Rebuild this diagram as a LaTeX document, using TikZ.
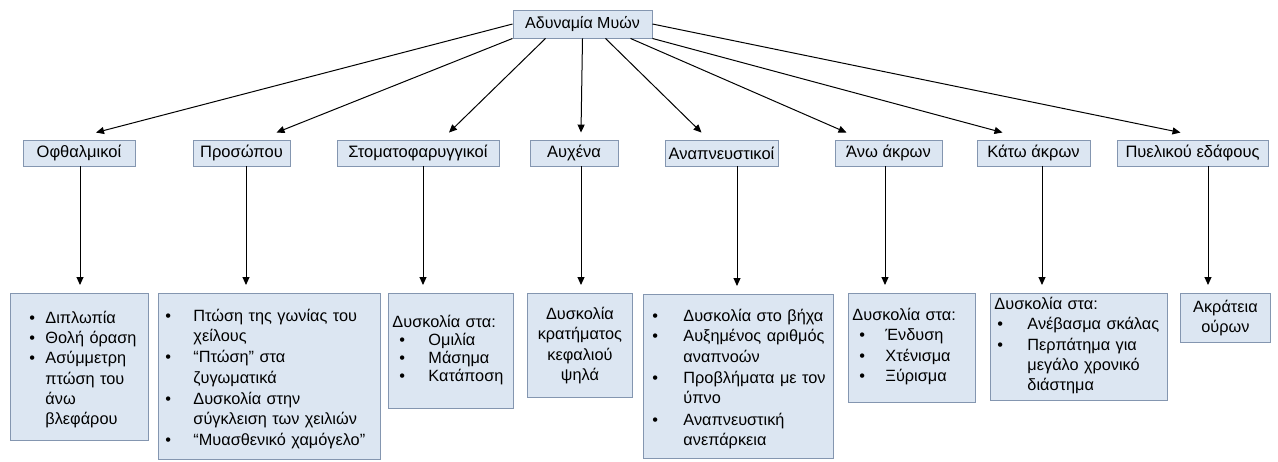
\documentclass[tikz,border=0pt]{standalone}
\usepackage{fontspec}
\setmainfont{Liberation Sans}
\usetikzlibrary{arrows.meta}

\definecolor{boxfill}{HTML}{DCE6F2}
\definecolor{boxline}{HTML}{8496B0}

% bullet line: bullet after \itmpre, text (and its wrapped lines) at \itmind
\newcommand\itm[1]{\par\edef\itmbls{\the\baselineskip}%
  \noindent\makebox[\itmind][l]{\hspace{\itmpre}•}%
  \parbox[t]{\dimexpr\linewidth-\itmind\relax}{\raggedright\baselineskip=\itmbls\relax\strut #1\strut}}

\tikzset{
  box/.style={draw=boxline, fill=boxfill, line width=0.9pt, inner sep=0pt},
  head/.style={box, font=\fontsize{16}{19}\selectfont, minimum width=139pt, minimum height=28pt},
  cat/.style={box, font=\fontsize{16.5}{19}\selectfont, minimum height=26pt},
  sym/.style={box, anchor=north west, align=left, inner xsep=4pt,
    font=\fontsize{16.3}{20.3}\selectfont},
  bul/.style 2 args={execute at begin node={\def\itmpre{#1}\def\itmind{#2}}},
  link/.style={-{Triangle[length=8pt,width=7pt]}, line width=1pt}
}

\begin{document}
\begin{tikzpicture}[x=1pt,y=-1pt]
  \useasboundingbox (0,0) rectangle (1278,461);

  \node[head] (top) at (582.5,24) {Αδυναμία Μυών};

  % groups of muscles
  \node[cat, minimum width=112pt] (c1) at (79,153)     {Οφθαλμικοί};
  \node[cat, minimum width=97pt]  (c2) at (241.5,153)  {Προσώπου};
  \node[cat, minimum width=162pt] (c3) at (418,153)    {Στοματοφαρυγγικοί};
  \node[cat, minimum width=88pt]  (c4) at (574,153)    {Αυχένα};
  \node[cat, minimum width=113pt] (c5) at (721.5,153)  {Αναπνευστικοί};
  \node[cat, minimum width=107pt] (c6) at (888.5,153)  {Άνω άκρων};
  \node[cat, minimum width=113pt] (c7) at (1033.5,153) {Κάτω άκρων};
  \node[cat, minimum width=151pt] (c8) at (1192.5,153) {Πυελικού εδάφους};

  % symptoms
  \node[sym, bul={15pt}{31pt}, text width=130pt, minimum height=147pt] (s1) at (10,293)
    {\itm{Διπλωπία}\itm{Θολή όραση}\itm{Ασύμμετρη\\πτώση του\\άνω\\βλεφάρου}};
  \node[sym, bul={3pt}{31pt}, text width=214pt, minimum height=166pt] (s2) at (158,293)
    {\itm{Πτώση της γωνίας του\\χείλους}\itm{“Πτώση” στα\\ζυγωματικά}%
     \itm{Δυσκολία στην\\σύγκλειση των χειλιών}\itm{“Μυασθενικό χαμόγελο”}};
  \node[sym, bul={7pt}{36pt}, text width=117pt, minimum height=115pt,
    font=\fontsize{16.3}{17.8}\selectfont] (s3) at (388,293)
    {Δυσκολία στα:\itm{Ομιλία}\itm{Μάσημα}\itm{Κατάποση}};
  \node[sym, align=center, text width=97pt, minimum height=104pt] (s4) at (527,293)
    {Δυσκολία\\κρατήματος\\κεφαλιού\\ψηλά};
  \node[sym, bul={5pt}{36pt}, text width=182pt, minimum height=164pt] (s5) at (643,294)
    {\itm{Δυσκολία στο βήχα}\itm{Αυξημένος αριθμός\\αναπνοών}%
     \itm{Προβλήματα με τον\\ύπνο}\itm{Αναπνευστική\\ανεπάρκεια}};
  \node[sym, bul={7pt}{33pt}, text width=119pt, minimum height=109pt] (s6) at (848,293)
    {Δυσκολία στα:\itm{Ένδυση}\itm{Χτένισμα}\itm{Ξύρισμα}};
  \node[sym, bul={3pt}{33pt}, text width=169pt, minimum height=107pt] (s7) at (990,293)
    {Δυσκολία στα:\itm{Ανέβασμα σκάλας}\itm{Περπάτημα για\\μεγάλο χρονικό\\διάστημα}};
  \node[sym, align=center, text width=82pt, minimum height=49pt] (s8) at (1180,293)
    {Ακράτεια\\ούρων};

  % from the main node down to the groups
  \draw[link] (top.west) -- ([xshift=17pt,yshift=7pt]c1.north);
  \draw[link] (top.south west) -- ([xshift=35pt,yshift=7pt]c2.north);
  \draw[link] ([xshift=-37pt]top.south) -- ([xshift=31pt,yshift=7pt]c3.north);
  \draw[link] (top.south) -- ([xshift=7pt,yshift=7pt]c4.north);
  \draw[link] ([xshift=23pt]top.south) -- ([xshift=-20pt,yshift=7pt]c5.north);
  \draw[link] ([xshift=48pt]top.south) -- ([xshift=-42pt,yshift=7pt]c6.north);
  \draw[link] (top.south east) -- ([xshift=-31pt,yshift=7pt]c7.north);
  \draw[link] (top.east) -- ([xshift=-12pt,yshift=7pt]c8.north);

  % from each group to its symptoms
  \coordinate (v1) at (80,0);
  \coordinate (v2) at (246,0);
  \coordinate (v3) at (423,0);
  \coordinate (v4) at (581,0);
  \coordinate (v5) at (737,0);
  \coordinate (v6) at (885,0);
  \coordinate (v7) at (1042,0);
  \coordinate (v8) at (1208,0);
  \draw[link, shorten >=8pt] (c1.south -| v1) -- (s1.north -| v1);
  \draw[link, shorten >=8pt] (c2.south -| v2) -- (s2.north -| v2);
  \draw[link, shorten >=8pt] (c3.south -| v3) -- (s3.north -| v3);
  \draw[link, shorten >=8pt] (c4.south -| v4) -- (s4.north -| v4);
  \draw[link, shorten >=8pt] (c5.south -| v5) -- (s5.north -| v5);
  \draw[link, shorten >=8pt] (c6.south -| v6) -- (s6.north -| v6);
  \draw[link, shorten >=8pt] (c7.south -| v7) -- (s7.north -| v7);
  \draw[link, shorten >=8pt] (c8.south -| v8) -- (s8.north -| v8);
\end{tikzpicture}
\end{document}
